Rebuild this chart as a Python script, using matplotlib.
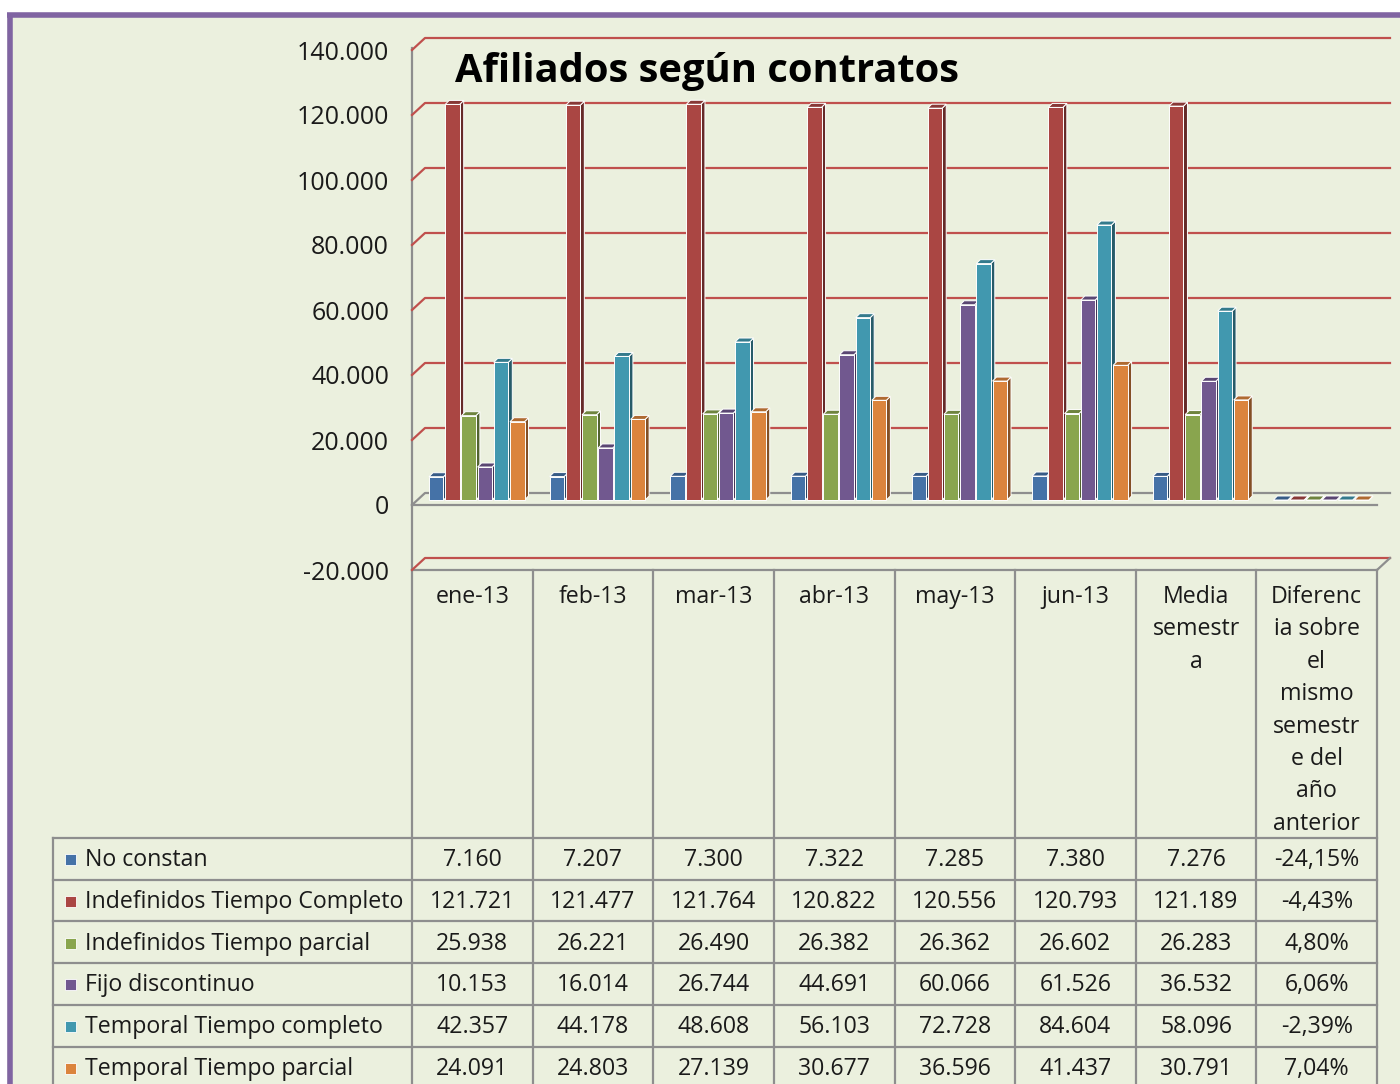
import matplotlib
matplotlib.use('Agg')
import matplotlib.pyplot as plt
from matplotlib.patches import Rectangle, Polygon
from matplotlib.colors import to_rgb

plt.rcParams['font.family'] = ['Open Sans', 'DejaVu Sans']

# --- Datos ---
categorias = ['ene-13', 'feb-13', 'mar-13', 'abr-13', 'may-13', 'jun-13',
              'Media\nsemestr\na',
              'Diferenc\nia sobre\nel\nmismo\nsemestr\ne del\naño\nanterior']
series = ['No constan', 'Indefinidos Tiempo Completo', 'Indefinidos Tiempo parcial',
          'Fijo discontinuo', 'Temporal Tiempo completo', 'Temporal Tiempo parcial']
no_constan = [7160, 7207, 7300, 7322, 7285, 7380, 7276]
indef_completo = [121721, 121477, 121764, 120822, 120556, 120793, 121189]
indef_parcial = [25938, 26221, 26490, 26382, 26362, 26602, 26283]
fijo_disc = [10153, 16014, 26744, 44691, 60066, 61526, 36532]
temp_completo = [42357, 44178, 48608, 56103, 72728, 84604, 58096]
temp_parcial = [24091, 24803, 27139, 30677, 36596, 41437, 30791]
diferencia = [-24.15, -4.43, 4.80, 6.06, -2.39, 7.04]  # en %
valores = [no_constan, indef_completo, indef_parcial, fijo_disc, temp_completo, temp_parcial]
colores = ['#4572A7', '#AA4643', '#89A54E', '#71588F', '#4198AF', '#DB843D']

FONDO = '#EBF0DE'
ROJO = '#C0504D'
GRIS = '#8E8E8E'
TXT = '#1a1a1a'
FS = 16.7

def miles(v):
    return f"{v:,}".replace(',', '.')

def pct(v):
    return f"{v:.2f}%".replace('.', ',')

def sombra(c, f):
    r, g, b = to_rgb(c)
    return (r * f, g * f, b * f)

# --- Figura ---
W, H = 1400, 1084
fig = plt.figure(figsize=(W / 100, H / 100), dpi=100, facecolor='white')
bg = fig.add_axes([0, 0, 1, 1])
bg.set_xlim(0, W)
bg.set_ylim(H, 0)
bg.axis('off')
bg.add_patch(Rectangle((7, 13), W, H, fc=FONDO, ec='none', zorder=0))
bg.plot([9.5, 9.5], [13, H], color='#8064A2', lw=4, solid_capstyle='butt', zorder=1)
bg.plot([7, W], [15, 15], color='#8064A2', lw=4, solid_capstyle='butt', zorder=1)

# geometria en pixeles
X0, X1 = 412, 1377
Y_TOP, Y_BOT = 50, 570
ncat = len(categorias)
colw = (X1 - X0) / ncat

ax = fig.add_axes([X0 / W, (H - Y_BOT) / H, (X1 - X0) / W, (Y_BOT - Y_TOP) / H])
ax.set_xlim(0, ncat)
ax.set_ylim(-20000, 140000)
ax.patch.set_visible(False)
for s in ax.spines.values():
    s.set_visible(False)
ax.set_xticks([])
ax.set_yticks(range(-20000, 140001, 20000))
ax.set_yticklabels([miles(v) for v in range(-20000, 140001, 20000)], fontsize=18, color=TXT)
ax.tick_params(axis='y', length=0, pad=16.5)

ux = 1 / colw                          # unidades x por pixel
uy = 160000 / (Y_BOT - Y_TOP)          # unidades y por pixel

# paredes y lineas de cuadricula (con profundidad)
gdx, gdy = 13 * ux, 12 * uy
for v in range(-20000, 140001, 20000):
    c = GRIS if v == 0 else ROJO
    ax.plot([0, gdx, ncat + gdx], [v, v + gdy, v + gdy], color=c, lw=1.6,
            clip_on=False, zorder=1)
ax.plot([0, ncat], [0, 0], color=GRIS, lw=1.6, clip_on=False, zorder=1)
ax.plot([ncat, ncat + gdx], [-20000, -20000 + gdy], color=GRIS, lw=1.6, clip_on=False, zorder=1)

# --- Barras 3D ---
off0 = 17 * ux
paso = 16.2 * ux
ancho = 14.5 * ux
dx, dy = 4 * ux, 4 * uy
base = 5 * uy
for i in range(ncat):
    for j, serie in enumerate(valores):
        if i < len(serie):
            v = serie[i]
        else:
            v = diferencia[j] / 100
        x = i + off0 + j * paso
        col = colores[j]
        z = 3 + j
        top = base + v
        ax.add_patch(Polygon([(x + ancho, base), (x + ancho + dx, base + dy),
                              (x + ancho + dx, top + dy), (x + ancho, top)],
                             closed=True, fc=sombra(col, 0.6), ec='white', lw=0.7, zorder=z))
        ax.add_patch(Polygon([(x, top), (x + dx, top + dy), (x + ancho + dx, top + dy),
                              (x + ancho, top)],
                             closed=True, fc=sombra(col, 0.8), ec='white', lw=0.7, zorder=z))
        ax.add_patch(Rectangle((x, base), ancho, v, fc=col, ec='white', lw=0.7, zorder=z))

# --- Titulo ---
bg.text(455, 82, 'Afiliados según contratos', fontsize=28.7, fontweight='bold',
        color='black', va='baseline', ha='left', zorder=10)

# --- Tabla de datos ---
bg.plot([X0, X0], [48, H], color=GRIS, lw=1.6, zorder=2)
bg.plot([X0, X1], [Y_BOT, Y_BOT], color=GRIS, lw=1.6, zorder=2)
for k in range(1, ncat + 1):
    xk = X0 + k * colw
    bg.plot([xk, xk], [Y_BOT, H], color=GRIS, lw=1.6, zorder=2)

for i, cat in enumerate(categorias):
    cx = X0 + (i + 0.5) * colw
    for n, linea in enumerate(cat.split('\n')):
        bg.text(cx, 597 + n * 32.4, linea, ha='center', va='center', fontsize=FS,
                color=TXT, zorder=10)

T0 = 838
fila = 41.7
bg.plot([53, 53], [T0, H], color=GRIS, lw=1.6, zorder=2)
for r in range(len(series) + 1):
    yr = T0 + r * fila
    bg.plot([53, X1], [yr, yr], color=GRIS, lw=1.6, zorder=2)

for r, nombre in enumerate(series):
    cy = T0 + (r + 0.5) * fila + 1.5
    bg.add_patch(Rectangle((65, cy - 6), 11, 11, fc=colores[r], ec='white', lw=0.6, zorder=5))
    bg.text(85, cy, nombre, ha='left', va='center', fontsize=FS, color=TXT, zorder=10)
    textos = [miles(v) for v in valores[r]] + [pct(diferencia[r])]
    for i, t in enumerate(textos):
        bg.text(X0 + (i + 0.5) * colw, cy, t, ha='center', va='center', fontsize=FS,
                color=TXT, zorder=10)

fig.savefig('out.png', dpi=100, facecolor='white')
